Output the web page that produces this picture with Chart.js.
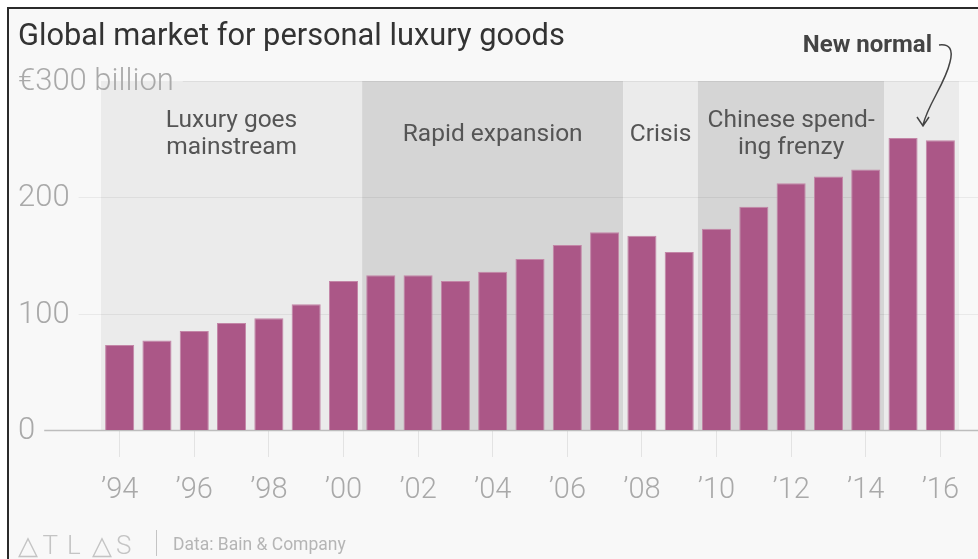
<!DOCTYPE html>
<html>
<head>
<meta charset="utf-8">
<title>Global market for personal luxury goods</title>
<script src="https://cdn.jsdelivr.net/npm/chart.js@4"></script>
<style>
  html, body { margin: 0; padding: 0; background: #fff; }
  #wrap { position: relative; width: 978px; height: 559px; overflow: hidden; background: #fff; }
  #frame { position: absolute; left: 7px; top: 7px; right: 0; bottom: 0;
           border-left: 2px solid #2a2a2a; border-top: 2px solid #2a2a2a; background: #f8f8f8; }
  #chart { position: absolute; left: 0; top: 0; }
</style>
</head>
<body>
<div id="wrap">
  <div id="frame"></div>
  <canvas id="chart" width="978" height="559"></canvas>
</div>
<script>
// market size, € billion
const years = [1994, 1995, 1996, 1997, 1998, 1999, 2000, 2001, 2002, 2003, 2004, 2005,
               2006, 2007, 2008, 2009, 2010, 2011, 2012, 2013, 2014, 2015, 2016];
const sales = [73, 77, 85, 92, 96, 108, 128, 133, 133, 128, 136, 147,
               159, 170, 167, 153, 173, 192, 212, 218, 224, 251, 249];

const yTicks = [0, 100, 200, 300];
const yTickLabels = ['0', '100', '200', '€300 billion'];

// eras shaded behind the bars
const eraNames = [['Luxury goes', 'mainstream'], ['Rapid expansion'], ['Crisis'],
                  ['Chinese spend-', 'ing frenzy'], []];
const eraFrom = [1994, 2001, 2008, 2010, 2015];
const eraTo   = [2000, 2007, 2009, 2014, 2016];
const eraFill = ['#ebebeb', '#d5d5d5', '#ebebeb', '#d5d5d5', '#ebebeb'];

const FONT = 'Roboto, "Open Sans", sans-serif';

const backdrop = {
  id: 'backdrop',
  beforeDatasetsDraw(chart) {
    const { ctx, scales: { x, y } } = chart;
    const half = (x.getPixelForValue(1) - x.getPixelForValue(0)) / 2;
    ctx.save();

    // era bands
    eraFrom.forEach((from, i) => {
      const l = x.getPixelForValue(years.indexOf(from)) - half;
      const r = x.getPixelForValue(years.indexOf(eraTo[i])) + half;
      ctx.fillStyle = eraFill[i];
      ctx.fillRect(l, y.getPixelForValue(300), r - l, y.getPixelForValue(0) - y.getPixelForValue(300));
    });

    // y labels + grid lines
    ctx.font = '300 31px ' + FONT;
    ctx.textBaseline = 'middle';
    ctx.textAlign = 'left';
    yTicks.forEach((v, i) => {
      const py = Math.round(y.getPixelForValue(v)) + 0.5;
      ctx.fillStyle = '#a9a9a9';
      ctx.fillText(yTickLabels[i], 18, py + 1);
      const start = 18 + ctx.measureText(yTickLabels[i]).width + 9;
      ctx.strokeStyle = v === 0 ? '#bdbdbd' : 'rgba(0,0,0,0.06)';
      ctx.lineWidth = v === 0 ? 1.5 : 1;
      ctx.beginPath();
      ctx.moveTo(start, py);
      ctx.lineTo(chart.width, py);
      ctx.stroke();
    });

    // era captions
    ctx.font = '24.5px ' + FONT;
    ctx.fillStyle = '#555';
    ctx.textAlign = 'center';
    ctx.textBaseline = 'alphabetic';
    eraNames.forEach((lines, i) => {
      const l = x.getPixelForValue(years.indexOf(eraFrom[i])) - half;
      const r = x.getPixelForValue(years.indexOf(eraTo[i])) + half;
      const top = lines.length === 1 ? 141 : 127;
      lines.forEach((t, k) => ctx.fillText(t, (l + r) / 2, top + k * 27));
    });
    ctx.restore();
  },
  afterDraw(chart) {
    const { ctx } = chart;
    ctx.save();
    ctx.textBaseline = 'alphabetic';

    ctx.fillStyle = '#333';
    ctx.font = '30.8px ' + FONT;
    ctx.fillText('Global market for personal luxury goods', 18, 45);

    // "New normal" callout
    ctx.font = 'bold 24px ' + FONT;
    ctx.fillStyle = '#444';
    ctx.textAlign = 'right';
    ctx.fillText('New normal', 932, 52);
    ctx.strokeStyle = '#444';
    ctx.lineWidth = 1.5;
    ctx.beginPath();
    ctx.moveTo(939, 45);
    ctx.quadraticCurveTo(955, 43, 950, 62);
    ctx.bezierCurveTo(945, 84, 928, 104, 923, 125);
    ctx.moveTo(917, 117);
    ctx.lineTo(923, 126);
    ctx.lineTo(929, 117);
    ctx.stroke();

    // footer
    ctx.textAlign = 'left';
    ctx.fillStyle = '#c4c4c4';
    ctx.font = '300 26px ' + FONT;
    ['△', 'T', 'L', '△', 'S'].forEach((c, i) => ctx.fillText(c, 18 + i * 24.5, 554));
    ctx.fillRect(156, 530, 1, 26);
    ctx.fillStyle = '#b5b5b5';
    ctx.font = '17.5px ' + FONT;
    ctx.fillText('Data: Bain & Company', 173, 550);
    ctx.restore();
  }
};

new Chart(document.getElementById('chart'), {
  type: 'bar',
  data: {
    labels: years,
    datasets: [{
      data: sales,
      backgroundColor: '#ab5787',
      borderColor: '#c386a7',
      borderWidth: 1,
      barPercentage: 0.78,
      categoryPercentage: 1.0
    }]
  },
  options: {
    responsive: false,
    animation: false,
    layout: { padding: { left: 101, right: 19, top: 81, bottom: 0 } },
    plugins: { legend: { display: false }, tooltip: { enabled: false } },
    scales: {
      y: { display: false, min: 0, max: 300 },
      x: {
        afterFit: s => { s.height = 129; },
        border: { display: false },
        grid: {
          offset: false,
          drawOnChartArea: false,
          tickLength: 27,
          color: ctx => (ctx.index % 2 === 0 ? '#e3e3e3' : 'rgba(0,0,0,0)')
        },
        ticks: {
          autoSkip: false,
          maxRotation: 0,
          padding: 16,
          color: '#a9a9a9',
          font: { family: FONT, size: 29, weight: '300' },
          callback: (v, i) => (i % 2 === 0 ? '’' + String(years[i]).slice(2) : '')
        }
      }
    }
  },
  plugins: [backdrop]
});
</script>
</body>
</html>
